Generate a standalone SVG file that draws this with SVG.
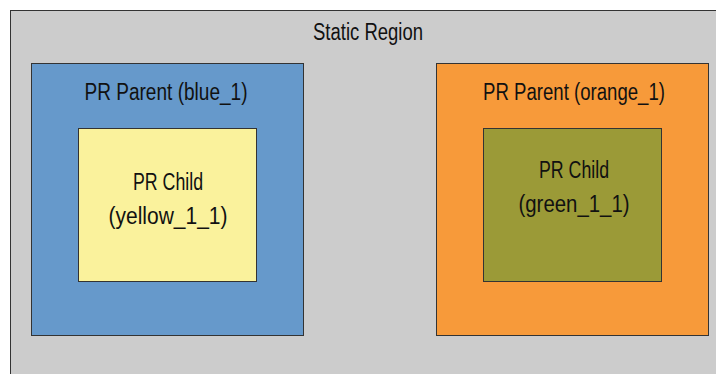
<svg xmlns="http://www.w3.org/2000/svg" width="716" height="374" viewBox="0 0 716 374">
<style>
text{font-family:"Liberation Sans Narrow","Liberation Sans",Arial,sans-serif;font-size:23px;fill:#111;text-anchor:middle}
.b{stroke:#333;stroke-width:1}
</style>
<rect x="0" y="0" width="716" height="374" fill="#ffffff"/>
<g id="static">
<rect class="b" x="10.5" y="10.5" width="720" height="380" fill="#cccccc" stroke="#666"/>
<text x="368" y="40" textLength="110" lengthAdjust="spacingAndGlyphs">Static Region</text>
</g>
<g id="blue_1">
<rect class="b" x="31.5" y="63.5" width="272" height="272" fill="#6699cb"/>
<text x="166" y="100" textLength="163" lengthAdjust="spacingAndGlyphs">PR Parent (blue_1)</text>
</g>
<g id="yellow_1_1">
<rect class="b" x="78.5" y="128.5" width="178" height="153" fill="#faf29c"/>
<text x="168" y="190" textLength="70" lengthAdjust="spacingAndGlyphs">PR Child</text>
<text x="168" y="224" textLength="119" lengthAdjust="spacingAndGlyphs">(yellow_1_1)</text>
</g>
<g id="orange_1">
<rect class="b" x="436.5" y="63.5" width="272" height="272" fill="#f79a3a"/>
<text x="574" y="100" textLength="182" lengthAdjust="spacingAndGlyphs">PR Parent (orange_1)</text>
</g>
<g id="green_1_1">
<rect class="b" x="483.5" y="128.5" width="178" height="153" fill="#9b9a37"/>
<text x="574" y="178" textLength="70" lengthAdjust="spacingAndGlyphs">PR Child</text>
<text x="574" y="212" textLength="111" lengthAdjust="spacingAndGlyphs">(green_1_1)</text>
</g>
<g id="connectors"></g>
</svg>
